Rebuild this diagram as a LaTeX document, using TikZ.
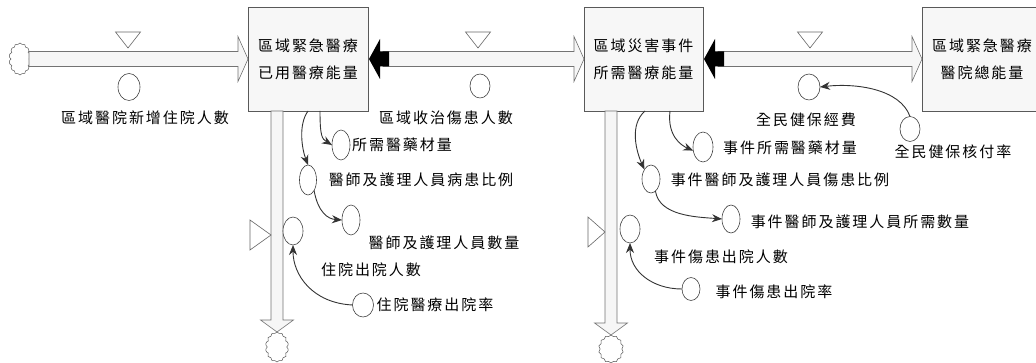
\documentclass[tikz,border=0pt]{standalone}
\usepackage{fontspec}
\newfontfamily\cjk[LetterSpace=13]{Noto Sans CJK TC}
\usetikzlibrary{shapes.symbols,shapes.geometric,arrows.meta,calc}
\tikzset{
  stock/.style={draw=black!65, fill=gray!6, minimum width=120pt, minimum height=104pt,
    inner sep=0pt, outer sep=0pt, align=center, line width=0.7pt, font=\cjk\fontsize{15}{27}\selectfont},
  aux/.style={ellipse, draw=black!75, fill=white, inner sep=0pt, outer sep=0pt, line width=0.6pt},
  lbl/.style={font=\cjk\fontsize{15}{18}\selectfont, inner sep=0pt},
  pipe/.style={draw=black!55, fill=gray!7, line width=0.6pt},
  link/.style={draw=black!80, line width=0.9pt, -{Stealth[length=10pt,width=8pt]}},
  valve/.style={draw=black!60, fill=white, line width=0.6pt},
  sink/.style={cloud, cloud puffs=14, cloud puff arc=135, cloud ignores aspect,
    draw=black!65, fill=white, inner sep=0pt, outer sep=0pt, line width=0.5pt},
}
% horizontal pipe ending in a hollow head at #3 (start shifted by #1)
\newcommand\hpipe[3][0pt]{%
  \filldraw[pipe] let \p1=(#2), \p2=(#3) in
   (\x1+#1,\y2+7.5pt) -- (\x2-10pt,\y2+7.5pt) -- (\x2-10pt,\y2+22.5pt) -- (\x2,\y2)
   -- (\x2-10pt,\y2-22.5pt) -- (\x2-10pt,\y2-7.5pt) -- (\x1+#1,\y2-7.5pt) -- cycle;}
% vertical pipe from #1 down to the tip #2
\newcommand\vpipe[2]{%
  \filldraw[pipe] let \p1=(#1), \p2=(#2) in
   (\x2-6pt,\y1) -- (\x2-6pt,\y2+12pt) -- (\x2-16.5pt,\y2+12pt) -- (\x2,\y2)
   -- (\x2+16.5pt,\y2+12pt) -- (\x2+6pt,\y2+12pt) -- (\x2+6pt,\y1) -- cycle;}
% black head pointing left at #1
\newcommand\blackhead[1]{%
  \fill[black] let \p1=(#1) in
   (\x1+1pt,\y1) -- (\x1+12pt,\y1+20pt) -- (\x1+12pt,\y1+7.5pt) -- (\x1+21pt,\y1+7.5pt)
   -- (\x1+21pt,\y1-7.5pt) -- (\x1+12pt,\y1-7.5pt) -- (\x1+12pt,\y1-20pt) -- cycle;}
\begin{document}
\begin{tikzpicture}[x=1pt,y=-1pt]
\useasboundingbox (0,0) rectangle (1036,363);
\clip (0,0) rectangle (1036,363);

% stocks
\node[stock] (s1) at (308,59) {區域緊急醫療\\已用醫療能量};
\node[stock, minimum width=119pt] (s2) at (643.5,59) {區域災害事件\\所需醫療能量};
\node[stock] (s3) at (982,59) {區域緊急醫療\\醫院總能量};

% clouds
\node[sink, minimum width=22pt, minimum height=32pt] (cl1) at (20,59) {};
\node[sink, minimum width=23pt, minimum height=30pt] (cl2) at (277,347) {};
\node[sink, minimum width=25pt, minimum height=28pt] (cl3) at (611,349) {};

% pipes
\hpipe{cl1.east}{s1.west}
\hpipe[15pt]{s1.east}{s2.west}
\hpipe[15pt]{s2.east}{s3.west}
\vpipe{cl2 |- s1.south}{cl2.north}
\vpipe{cl3 |- s2.south}{cl3.north}
\blackhead{s1.east}
\blackhead{s2.east}

% valve triangles
\coordinate (t1) at (128,40);
\coordinate (t2) at (478,40);
\coordinate (t3) at (810,40);
\foreach \t in {t1,t2,t3}
  \draw[valve] ($(\t)+(-12.5,-8)$) -- ($(\t)+(12.5,-8)$) -- ($(\t)+(0,8)$) -- cycle;
\coordinate (tv1) at (260.5,235);
\coordinate (tv2) at (596.5,232);
\draw[valve] ($(tv1)+(-10.5,-15)$) -- ($(tv1)+(10.5,0)$) -- ($(tv1)+(-10.5,15)$) -- cycle;
\draw[valve] ($(tv2)+(-8.5,-15)$) -- ($(tv2)+(8.5,0)$) -- ($(tv2)+(-8.5,15)$) -- cycle;

% rate circles
\node[aux, minimum width=22pt, minimum height=27pt] (r1) at (129,87) {};
\node[aux, minimum width=20pt, minimum height=24pt] (r2) at (480,86) {};
\node[aux, minimum width=22pt, minimum height=26pt] (r3) at (809,87) {};
\node[aux, minimum width=20pt, minimum height=28pt] (fc1) at (293,231) {};
\node[aux, minimum width=20pt, minimum height=28pt] (fc2) at (630,229) {};

% auxiliaries
\node[aux, minimum width=18pt, minimum height=30pt] (a1) at (341,145) {};
\node[aux, minimum width=17pt, minimum height=30pt] (a2) at (308,180) {};
\node[aux, minimum width=18pt, minimum height=30pt] (a3) at (351,220) {};
\node[aux, minimum width=21pt, minimum height=24pt] (a4) at (363,305) {};
\node[aux, minimum width=20pt, minimum height=30pt] (b1) at (703,147) {};
\node[aux, minimum width=18pt, minimum height=28pt] (b2) at (651,179) {};
\node[aux, minimum width=18pt, minimum height=28pt] (b3) at (731,219) {};
\node[aux, minimum width=18pt, minimum height=23pt] (b4) at (691,289) {};
\node[aux, minimum width=20pt, minimum height=25pt] (c1) at (910,129) {};

% labels
\node[lbl] (lr1) at (145,118) {區域醫院新增住院人數};
\node[lbl] (lr2) at (446,118) {區域收治傷患人數};
\node[lbl] (lr3) at (806,120) {全民健保經費};
\node[lbl] (lc1) at (953,152) {全民健保核付率};
\node[lbl] (la1) at (402,145) {所需醫藥材量};
\node[lbl] (la2) at (421,180) {醫師及護理人員病患比例};
\node[lbl] (la3) at (444,243) {醫師及護理人員數量};
\node[lbl] (lf1) at (371,270) {住院出院人數};
\node[lbl] (la4) at (435,305) {住院醫療出院率};
\node[lbl] (lb1) at (790,148) {事件所需醫藥材量};
\node[lbl] (lb2) at (780,180) {事件醫師及護理人員傷患比例};
\node[lbl] (lb3) at (860,222) {事件醫師及護理人員所需數量};
\node[lbl] (lf2) at (721,257) {事件傷患出院人數};
\node[lbl] (lb4) at (774,292) {事件傷患出院率};

% links
\draw[link] ($(s1.south west)+(72,0)$) .. controls +(0,25) and +(-10,-6) .. (a1.west);
\draw[link] ($(s1.south west)+(60,0)$) .. controls +(-10,14) and +(-6,-16) .. (a2.north);
\draw[link] (a2.-60) .. controls +(4,22) and +(-14,-1) .. (a3.west);
\draw[link] (a4.west) .. controls +(-40,-2) and +(0,30) .. (fc1.south);
\draw[link] ($(s2.south west)+(86,0)$) .. controls +(-3,25) and +(-12,-5) .. (b1.200);
\draw[link] ($(s2.south west)+(61,0)$) .. controls +(-16,14) and +(-8,-18) .. (b2.125);
\draw[link] (b2.-70) .. controls +(4,25) and +(-25,-2) .. (b3.west);
\draw[link] (b4.west) .. controls +(-30,0) and +(0,28) .. (fc2.south);
\draw[link] (c1.north) .. controls +(-10,-28) and +(35,-4) .. (r3.east);
\end{tikzpicture}
\end{document}
